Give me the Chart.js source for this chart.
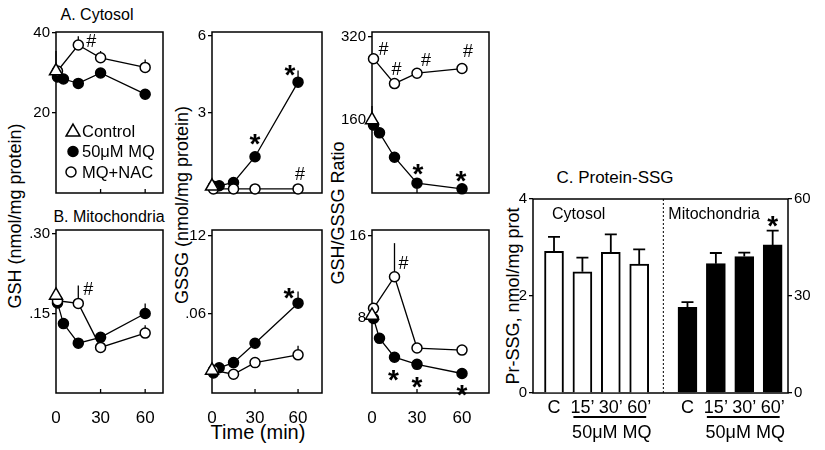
<!DOCTYPE html>
<html><head><meta charset="utf-8">
<script src="https://cdn.jsdelivr.net/npm/chart.js@4/dist/chart.umd.min.js"></script>
<style>
body{margin:0;background:#fff;width:825px;height:450px;position:relative;overflow:hidden;font-family:"Liberation Sans",Arial,sans-serif;color:#000}
canvas{position:absolute}
.t{position:absolute;white-space:nowrap;transform:translate(-50%,-50%);line-height:1}
.r{transform:translate(-50%,-50%) rotate(-90deg)}
</style></head><body>
<div class="t" style="left:97px;top:15px;font-size:16px">A. Cytosol</div>
<div class="t" style="left:109px;top:217px;font-size:16px">B. Mitochondria</div>
<div class="t" style="left:615px;top:177px;font-size:17px">C. Protein-SSG</div>
<div class="t r" style="left:15px;top:216px;font-size:18px">GSH (nmol/mg protein)</div>
<div class="t r" style="left:182px;top:205px;font-size:18px">GSSG (nmol/mg protein)</div>
<div class="t r" style="left:338px;top:213px;font-size:18px">GSH/GSSG Ratio</div>
<div class="t" style="left:258px;top:432px;font-size:20px">Time (min)</div>
<div class="t r" style="left:513px;top:296px;font-size:18px">Pr-SSG, nmol/mg prot</div>
<script>
// ---------- DATA ----------
const CTRL_T = [0];
const MQ_T = [1, 5, 15, 30, 60];
const NAC_T = [1, 15, 30, 60];
const X_TICKS = [0, 30, 60];

// A. Cytosol
const GSH_CYT_CTRL = [30.5], GSH_CYT_CTRL_ERR = [5];
const GSH_CYT_MQ = [29, 28.5, 27.4, 30, 24.7];
const GSH_CYT_NAC = [30.5, 37, 33.8, 31.4], GSH_CYT_NAC_ERR = [0, 2.2, 1.7, 2];
const GSH_CYT_TICKS = [20, 40];

const GSSG_CYT_CTRL = [0.15];
const GSSG_CYT_MQ = [0.15, 0.17, 0.3, 1.3, 4.2], GSSG_CYT_MQ_ERR = [0, 0, 0, 0, 0.45];
const GSSG_CYT_NAC = [0.05, 0.05, 0.05, 0.05];
const GSSG_CYT_TICKS = [3, 6];

const RATIO_CYT_CTRL = [160], RATIO_CYT_CTRL_ERR = [27];
const RATIO_CYT_MQ = [150, 135, 88, 38, 27];
const RATIO_CYT_NAC = [278, 230, 250, 259], RATIO_CYT_NAC_ERR = [0, 0, 0, 9];
const RATIO_CYT_TICKS = [160, 320];

// B. Mitochondria
const GSH_MIT_CTRL = [0.184];
const GSH_MIT_MQ = [0.17, 0.131, 0.094, 0.105, 0.15], GSH_MIT_MQ_ERR = [0, 0, 0, 0, 0.019];
const GSH_MIT_NAC = [0.174, 0.169, 0.086, 0.113], GSH_MIT_NAC_ERR = [0, 0.034, 0, 0.015];
const GSH_MIT_TICKS = [0.15, 0.30];

const GSSG_MIT_CTRL = [0.016];
const GSSG_MIT_MQ = [0.014, 0.018, 0.022, 0.037, 0.068], GSSG_MIT_MQ_ERR = [0, 0, 0, 0, 0.009];
const GSSG_MIT_NAC = [0.016, 0.013, 0.022, 0.028], GSSG_MIT_NAC_ERR = [0, 0, 0, 0.007];
const GSSG_MIT_TICKS = [0.06, 0.12];

const RATIO_MIT_CTRL = [8.2];
const RATIO_MIT_MQ = [7.9, 5.95, 4.1, 3.4, 2.5];
const RATIO_MIT_NAC = [8.9, 12.0, 5.0, 4.8], RATIO_MIT_NAC_ERR = [0, 3.3, 0, 0];
const RATIO_MIT_TICKS = [8, 16];

// C. Protein-SSG
const BAR_LABELS = ["C", "15\u2019", "30\u2019", "60\u2019"];
const TREATMENT = "50\u03bcM MQ";
const PRSSG_CYT = [2.92, 2.5, 2.9, 2.66], PRSSG_CYT_ERR = [0.3, 0.29, 0.37, 0.3];
const PRSSG_MIT = [26.5, 40, 42.2, 45.8], PRSSG_MIT_ERR = [1.6, 3.3, 1.2, 4.4];
const PRSSG_CYT_TICKS = [0, 2, 4];
const PRSSG_MIT_TICKS = [0, 30, 60];

// ---------- RENDER ----------
const FONT = '"Liberation Sans", Arial, sans-serif';
Chart.defaults.font.family = FONT;
Chart.defaults.color = '#000';
Chart.defaults.animation = false;

const series = (ts, vs) => ts.map((t, i) => ({x: t, y: vs[i]}));
const fmt = v => (v !== 0 && Math.abs(v) < 1) ? v.toFixed(2).replace(/^0/, '') : String(v);

function drawSym(ctx, s, x, y) {
  if (s === '*') {
    const sz = 28;
    ctx.font = 'bold ' + sz + 'px ' + FONT;
    ctx.textAlign = 'center'; ctx.textBaseline = 'alphabetic';
    ctx.fillText(s, x, y + 0.58 * sz);
  } else {
    const sz = 18;
    ctx.font = sz + 'px ' + FONT;
    ctx.textAlign = 'center'; ctx.textBaseline = 'alphabetic';
    ctx.fillText(s, x, y + 0.35 * sz);
  }
}
function triangle(ctx, x, y, r) {
  ctx.beginPath();
  let a = 0;
  for (let k = 0; k < 3; k++) {
    const px = x + Math.sin(a) * r, py = y - Math.cos(a) * r;
    k ? ctx.lineTo(px, py) : ctx.moveTo(px, py);
    a += 2 * Math.PI / 3;
  }
  ctx.closePath();
}

const panelDeco = {
  id: 'panelDeco',
  beforeDatasetsDraw(chart) {
    const {ctx, chartArea: a} = chart;
    const ys = chart.scales.y, xs = chart.scales.x;
    ctx.save();
    ctx.strokeStyle = '#000'; ctx.lineWidth = 1.5;
    ctx.strokeRect(a.left, a.top, a.right - a.left, a.bottom - a.top);
    ctx.lineWidth = 1.3;
    X_TICKS.slice(1).forEach(v => {
      const px = xs.getPixelForValue(v);
      ctx.beginPath(); ctx.moveTo(px, a.bottom); ctx.lineTo(px, a.bottom - 4); ctx.stroke();
    });
    chart.data.datasets.forEach((ds, di) => {
      if (!ds.errs) return;
      const meta = chart.getDatasetMeta(di);
      ds.errs.forEach((e, i) => {
        if (!e) return;
        const p = meta.data[i];
        const top = ys.getPixelForValue(ds.data[i].y + e);
        ctx.beginPath(); ctx.moveTo(p.x, p.y); ctx.lineTo(p.x, top); ctx.stroke();
      });
    });
    ctx.restore();
  },
  afterDatasetsDraw(chart) {
    const {ctx} = chart;
    const o = chart.options.plugins.panelDeco || {};
    ctx.save();
    ctx.fillStyle = '#000';
    (o.marks || []).forEach(m => {
      const di = chart.data.datasets.findIndex(d => d.key === m.k);
      const p = chart.getDatasetMeta(di).data[m.i];
      drawSym(ctx, m.s, p.x + m.dx, p.y + m.dy);
    });
    if (o.legend) {
      const a = chart.chartArea;
      const rows = ['ctrl', 'mq', 'nac'];
      rows.forEach((k, r) => {
        const ds = chart.data.datasets.find(d => d.key === k);
        const y = a.top + 99 + r * 20.5;
        const sx = a.left + (k === 'nac' ? 15 : 17);
        ctx.lineWidth = 1.5; ctx.strokeStyle = '#000';
        if (k === 'ctrl') {
          triangle(ctx, sx, y + 1, 8); ctx.fillStyle = '#fff'; ctx.fill(); ctx.stroke();
        } else {
          ctx.beginPath(); ctx.arc(sx, y, 5, 0, Math.PI * 2);
          ctx.fillStyle = k === 'mq' ? '#000' : '#fff'; ctx.fill(); ctx.stroke();
        }
        ctx.fillStyle = '#000';
        ctx.font = '16.5px ' + FONT; ctx.textAlign = 'left'; ctx.textBaseline = 'middle';
        ctx.fillText(ds.label, a.left + 26, y + 1);
      });
    }
    ctx.restore();
  }
};

function makeCanvas(box, ml, mr, mt, mb) {
  const cv = document.createElement('canvas');
  const W = box.r - box.l + ml + mr, H = box.b - box.t + mt + mb;
  cv.width = W; cv.height = H;
  cv.style.left = (box.l - ml) + 'px'; cv.style.top = (box.t - mt) + 'px';
  cv.style.width = W + 'px'; cv.style.height = H + 'px';
  document.body.appendChild(cv);
  return cv;
}

function linePanel(p) {
  const ml = 44, mr = 10, mt = 10, mb = p.xLabels ? 34 : 10;
  const cv = makeCanvas(p.box, ml, mr, mt, mb);
  const pt = {pointBorderColor: '#000', pointBorderWidth: 1.5, borderColor: '#000', borderWidth: 1.3, clip: false, pointHoverRadius: 5};
  const datasets = [
    Object.assign({}, pt, {key: 'ctrl', label: 'Control', data: series(CTRL_T, p.ctrl), errs: p.ctrlErr,
      pointStyle: 'triangle', pointRadius: 7.5, pointBackgroundColor: '#fff', showLine: false}),
    Object.assign({}, pt, {key: 'nac', label: 'MQ+NAC', data: series(NAC_T, p.nac), errs: p.nacErr,
      pointStyle: 'circle', pointRadius: 5, pointBackgroundColor: '#fff', showLine: true}),
    Object.assign({}, pt, {key: 'mq', label: '50\u03bcM MQ', data: series(MQ_T, p.mq), errs: p.mqErr,
      pointStyle: 'circle', pointRadius: 5, pointBackgroundColor: '#000', showLine: true})
  ];
  new Chart(cv, {
    type: 'scatter',
    data: {datasets},
    options: {
      responsive: false, devicePixelRatio: 1, animation: false,
      layout: {padding: {top: mt, right: mr, left: 0, bottom: 0}},
      plugins: {legend: {display: false}, tooltip: {enabled: false}, panelDeco: {marks: p.marks, legend: p.legend}},
      scales: {
        x: {type: 'linear', min: p.x[0], max: p.x[1],
          afterBuildTicks: s => { s.ticks = X_TICKS.map(v => ({value: v})); },
          afterFit: s => { s.height = mb; },
          grid: {display: false}, border: {display: false},
          ticks: {display: !!p.xLabels, font: {size: 17}, padding: 7, color: '#000', maxRotation: 0, autoSkip: false}},
        y: {type: 'linear', min: p.y[0], max: p.y[1],
          afterBuildTicks: s => { s.ticks = p.yTicks.map(v => ({value: v})); },
          afterFit: s => { s.width = ml; },
          grid: {drawOnChartArea: false, drawTicks: true, tickLength: 4, color: '#000', tickColor: '#000', lineWidth: 1.3},
          border: {display: false},
          ticks: {font: {size: 15}, padding: 2, color: '#000', autoSkip: false, callback: fmt}}
      }
    },
    plugins: [panelDeco]
  });
}

const TOP = {t: 31, b: 194}, BOT = {t: 229, b: 393};
const C1 = {l: 56, r: 163}, C2 = {l: 212, r: 322}, C3 = {l: 372, r: 489};

linePanel({box: {...C1, ...TOP}, x: [0, 72], y: [0, 40.25], yTicks: GSH_CYT_TICKS,
  ctrl: GSH_CYT_CTRL, ctrlErr: GSH_CYT_CTRL_ERR, mq: GSH_CYT_MQ, nac: GSH_CYT_NAC, nacErr: GSH_CYT_NAC_ERR,
  legend: true, marks: [{k: 'nac', i: 1, s: '#', dx: 13, dy: -4}]});
linePanel({box: {...C2, ...TOP}, x: [0, 76.7], y: [-0.11, 6.15], yTicks: GSSG_CYT_TICKS,
  ctrl: GSSG_CYT_CTRL, mq: GSSG_CYT_MQ, mqErr: GSSG_CYT_MQ_ERR, nac: GSSG_CYT_NAC,
  marks: [{k: 'mq', i: 3, s: '*', dx: 0, dy: -20}, {k: 'mq', i: 4, s: '*', dx: -8, dy: -14}, {k: 'nac', i: 3, s: '#', dx: 2, dy: -15}]});
linePanel({box: {...C3, ...TOP}, x: [0, 78], y: [19, 329.5], yTicks: RATIO_CYT_TICKS,
  ctrl: RATIO_CYT_CTRL, ctrlErr: RATIO_CYT_CTRL_ERR, mq: RATIO_CYT_MQ, nac: RATIO_CYT_NAC, nacErr: RATIO_CYT_NAC_ERR,
  marks: [{k: 'nac', i: 0, s: '#', dx: 10, dy: -10}, {k: 'nac', i: 1, s: '#', dx: 2, dy: -15}, {k: 'nac', i: 2, s: '#', dx: 9, dy: -14},
          {k: 'nac', i: 3, s: '#', dx: 6, dy: -18}, {k: 'mq', i: 3, s: '*', dx: 1, dy: -16}, {k: 'mq', i: 4, s: '*', dx: -1, dy: -15}]});
linePanel({box: {...C1, ...BOT}, x: [0, 72], y: [0, 0.3075], yTicks: GSH_MIT_TICKS, xLabels: true,
  ctrl: GSH_MIT_CTRL, mq: GSH_MIT_MQ, mqErr: GSH_MIT_MQ_ERR, nac: GSH_MIT_NAC, nacErr: GSH_MIT_NAC_ERR,
  marks: [{k: 'nac', i: 1, s: '#', dx: 10, dy: -15}]});
linePanel({box: {...C2, ...BOT}, x: [0, 76.7], y: [-0.0015, 0.1246], yTicks: GSSG_MIT_TICKS, xLabels: true,
  ctrl: GSSG_MIT_CTRL, mq: GSSG_MIT_MQ, mqErr: GSSG_MIT_MQ_ERR, nac: GSSG_MIT_NAC, nacErr: GSSG_MIT_NAC_ERR,
  marks: [{k: 'mq', i: 4, s: '*', dx: -9, dy: -12}]});
linePanel({box: {...C3, ...BOT}, x: [0, 78], y: [0.585, 16.59], yTicks: RATIO_MIT_TICKS, xLabels: true,
  ctrl: RATIO_MIT_CTRL, mq: RATIO_MIT_MQ, nac: RATIO_MIT_NAC, nacErr: RATIO_MIT_NAC_ERR,
  marks: [{k: 'nac', i: 1, s: '#', dx: 9, dy: -14}, {k: 'mq', i: 2, s: '*', dx: -1, dy: 16}, {k: 'mq', i: 3, s: '*', dx: 0, dy: 15}, {k: 'mq', i: 4, s: '*', dx: 0, dy: 14}]});

// ---------- Bar panel ----------
const GROUP_GAP = 1.7; // spacing between groups in bar slots
const barDeco = {
  id: 'barDeco',
  beforeDatasetsDraw(chart) {
    const {ctx, chartArea: a} = chart, xs = chart.scales.x;
    ctx.save();
    ctx.strokeStyle = '#000'; ctx.lineWidth = 1.5;
    ctx.strokeRect(a.left, a.top, a.right - a.left, a.bottom - a.top);
    const dx = xs.getPixelForValue((2 * (BAR_LABELS.length - 1) + GROUP_GAP) / 2);
    ctx.setLineDash([2, 2]); ctx.lineWidth = 1;
    ctx.beginPath(); ctx.moveTo(dx, a.top); ctx.lineTo(dx, a.bottom); ctx.stroke();
    ctx.restore();
  },
  afterDatasetsDraw(chart) {
    const {ctx, chartArea: a} = chart, xs = chart.scales.x;
    ctx.save();
    ctx.strokeStyle = '#000'; ctx.fillStyle = '#000';
    chart.data.datasets.forEach((ds, di) => {
      const meta = chart.getDatasetMeta(di);
      const sc = chart.scales[ds.yAxisID];
      ctx.lineWidth = 1.8;
      ds.errs.forEach((e, i) => {
        const b = meta.data[i];
        const top = sc.getPixelForValue(ds.data[i].y + e);
        ctx.beginPath(); ctx.moveTo(b.x, b.y); ctx.lineTo(b.x, top);
        ctx.moveTo(b.x - 6, top); ctx.lineTo(b.x + 6, top); ctx.stroke();
        if (ds.sig && ds.sig[i]) drawSym(ctx, ds.sig[i], b.x, top - 12);
      });
      // x labels + treatment underline
      ctx.font = '18px ' + FONT; ctx.textAlign = 'center'; ctx.textBaseline = 'middle';
      meta.data.forEach((b, i) => ctx.fillText(BAR_LABELS[i], b.x, a.bottom + 15));
      const b1 = meta.data[1], b3 = meta.data[BAR_LABELS.length - 1];
      ctx.lineWidth = 2;
      ctx.beginPath(); ctx.moveTo(b1.x - 9, a.bottom + 24); ctx.lineTo(b3.x + 7, a.bottom + 24); ctx.stroke();
      ctx.fillText(TREATMENT, (b1.x + b3.x) / 2 + 1, a.bottom + 40);
      // group title
      ctx.font = '16px ' + FONT; ctx.textAlign = 'left';
      const gx = di === 0 ? a.left + 19 : xs.getPixelForValue((2 * (BAR_LABELS.length - 1) + GROUP_GAP) / 2) + 5;
      ctx.fillText(ds.label, gx, a.top + 16);
    });
    ctx.restore();
  }
};

(function () {
  const box = {l: 533, r: 788, t: 198, b: 393};
  const ml = 30, mr = 30, mt = 10, mb = 56;
  const cv = makeCanvas(box, ml, mr, mt, mb);
  const n = BAR_LABELS.length;
  new Chart(cv, {
    type: 'bar',
    data: {datasets: [
      {label: 'Cytosol', yAxisID: 'y', data: PRSSG_CYT.map((v, i) => ({x: i, y: v})), errs: PRSSG_CYT_ERR,
        backgroundColor: '#fff', borderColor: '#000', borderWidth: 2, barThickness: 19, grouped: false},
      {label: 'Mitochondria', yAxisID: 'y1', data: PRSSG_MIT.map((v, i) => ({x: i + n - 1 + GROUP_GAP, y: v})), errs: PRSSG_MIT_ERR,
        sig: ['', '', '', '*'],
        backgroundColor: '#000', borderColor: '#000', borderWidth: 2, barThickness: 19, grouped: false}
    ]},
    options: {
      responsive: false, devicePixelRatio: 1, animation: false,
      layout: {padding: {top: mt, bottom: mb, left: 0, right: 0}},
      plugins: {legend: {display: false}, tooltip: {enabled: false}},
      scales: {
        x: {type: 'linear', display: false, offset: false, min: -0.74, max: 2 * n - 2 + GROUP_GAP + 0.54},
        y: {position: 'left', min: 0, max: 4,
          afterBuildTicks: s => { s.ticks = PRSSG_CYT_TICKS.map(v => ({value: v})); },
          afterFit: s => { s.width = ml; },
          grid: {drawOnChartArea: false, tickLength: 4, color: '#000', tickColor: '#000', lineWidth: 1.3},
          border: {display: false}, ticks: {font: {size: 15}, padding: 2, color: '#000'}},
        y1: {position: 'right', min: 0, max: 60,
          afterBuildTicks: s => { s.ticks = PRSSG_MIT_TICKS.map(v => ({value: v})); },
          afterFit: s => { s.width = mr; },
          grid: {drawOnChartArea: false, tickLength: 4, color: '#000', tickColor: '#000', lineWidth: 1.3},
          border: {display: false}, ticks: {font: {size: 15}, padding: 2, color: '#000'}}
      }
    },
    plugins: [barDeco]
  });
})();
</script>
</body></html>
